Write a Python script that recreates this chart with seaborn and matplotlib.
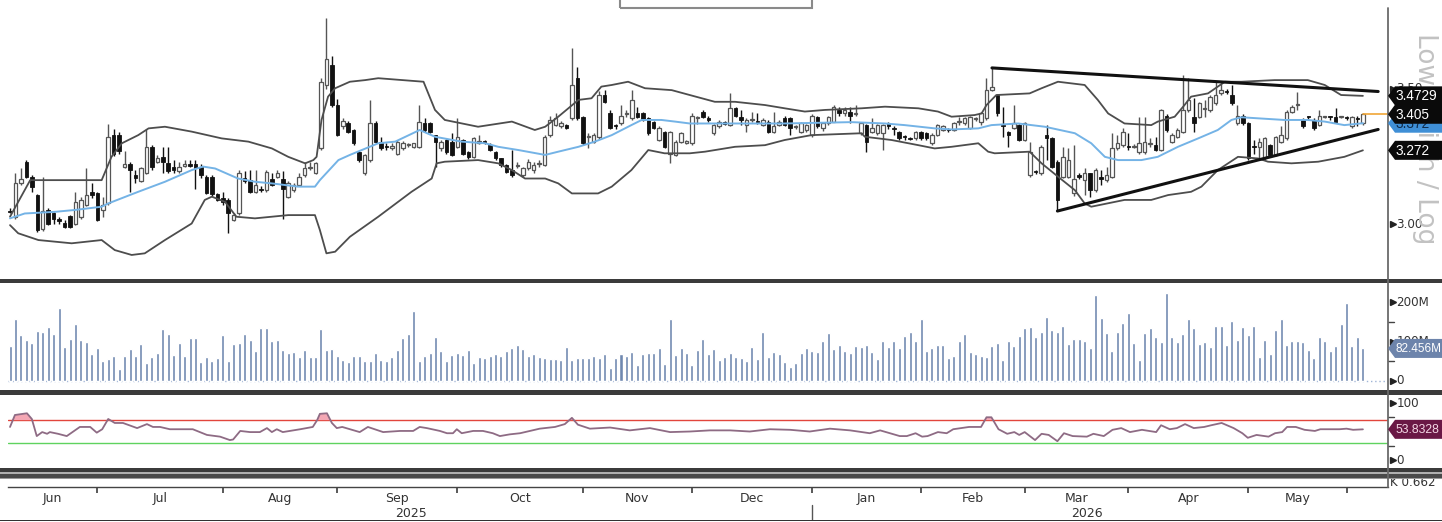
import numpy as np
import pandas as pd
import matplotlib
matplotlib.use("Agg")
import matplotlib.pyplot as plt
import seaborn as sns
from matplotlib.patches import Polygon, Rectangle
from matplotlib.lines import Line2D
from matplotlib.transforms import IdentityTransform, blended_transform_factory

# ---------------- data (daily candles) ----------------
open_ = [3.05, 3.027, 3.15, 3.23, 3.175, 3.107, 2.98, 3.052, 3.04, 3.02,
         3.005, 3.03, 3.0, 3.027, 3.07, 3.12, 3.113, 3.052, 3.076, 3.33,
         3.33, 3.21, 3.22, 3.18, 3.16, 3.19, 3.285, 3.23, 3.248, 3.225,
         3.21, 3.195, 3.215, 3.22, 3.22, 3.21, 3.175, 3.175, 3.11, 3.095,
         3.09, 3.015, 3.04, 3.17, 3.162, 3.12, 3.127, 3.125, 3.168, 3.175,
         3.168, 3.10, 3.125, 3.145, 3.18, 3.205, 3.187, 3.28, 3.513, 3.587,
         3.44, 3.36, 3.371, 3.347, 3.267, 3.187, 3.236, 3.371, 3.304, 3.285,
         3.28, 3.26, 3.28, 3.29, 3.285, 3.285, 3.371, 3.371, 3.328, 3.28,
         3.31, 3.304, 3.285, 3.31, 3.267, 3.248, 3.30, 3.305, 3.29, 3.267,
         3.242, 3.218, 3.20, 3.215, 3.18, 3.205, 3.20, 3.222, 3.218, 3.328,
         3.365, 3.36, 3.365, 3.39, 3.538, 3.396, 3.322, 3.304, 3.322, 3.476,
         3.408, 3.365, 3.371, 3.405, 3.39, 3.408, 3.408, 3.39, 3.378, 3.31,
         3.34, 3.26, 3.255, 3.304, 3.30, 3.298, 3.39, 3.415, 3.39, 3.335,
         3.36, 3.375, 3.365, 3.427, 3.396, 3.365, 3.384, 3.38, 3.365, 3.378,
         3.34, 3.365, 3.39, 3.39, 3.358, 3.34, 3.347, 3.328, 3.396, 3.353,
         3.371, 3.378, 3.42, 3.408, 3.415, 3.407, 3.335, 3.365, 3.34, 3.335,
         3.335, 3.371, 3.355, 3.34, 3.322, 3.317, 3.316, 3.34, 3.335, 3.298,
         3.328, 3.347, 3.348, 3.347, 3.376, 3.371, 3.353, 3.388, 3.378, 3.39,
         3.494, 3.476, 3.365, 3.34, 3.353, 3.365, 3.31, 3.18, 3.195, 3.187,
         3.328, 3.316, 3.23, 3.175, 3.175, 3.113, 3.18, 3.162, 3.187, 3.125,
         3.17, 3.162, 3.175, 3.28, 3.29, 3.287, 3.285, 3.267, 3.267, 3.296,
         3.29, 3.273, 3.40, 3.304, 3.322, 3.34, 3.42, 3.396, 3.396, 3.425,
         3.42, 3.445, 3.482, 3.488, 3.476, 3.371, 3.40, 3.371, 3.287, 3.285,
         3.242, 3.29, 3.255, 3.304, 3.316, 3.415, 3.438, 3.384, 3.397, 3.384,
         3.365, 3.395, 3.397, 3.396, 3.395, 3.396, 3.36, 3.39, 3.371]
high = [3.06, 3.187, 3.205, 3.235, 3.18, 3.11, 3.175, 3.06, 3.045, 3.025,
        3.015, 3.035, 3.12, 3.10, 3.205, 3.15, 3.12, 3.10, 3.37, 3.35,
        3.34, 3.27, 3.23, 3.2, 3.21, 3.35, 3.29, 3.255, 3.285, 3.285,
        3.235, 3.23, 3.235, 3.235, 3.235, 3.22, 3.18, 3.18, 3.115, 3.12,
        3.095, 3.04, 3.2, 3.195, 3.2, 3.2, 3.14, 3.2, 3.19, 3.2,
        3.195, 3.16, 3.15, 3.19, 3.23, 3.23, 3.23, 3.54, 3.76, 3.62,
        3.46, 3.39, 3.38, 3.35, 3.27, 3.26, 3.458, 3.38, 3.32, 3.30,
        3.30, 3.31, 3.305, 3.30, 3.30, 3.44, 3.39, 3.375, 3.33, 3.31,
        3.315, 3.335, 3.39, 3.315, 3.27, 3.32, 3.33, 3.31, 3.30, 3.27,
        3.245, 3.22, 3.273, 3.23, 3.21, 3.24, 3.23, 3.235, 3.33, 3.40,
        3.41, 3.38, 3.37, 3.648, 3.58, 3.40, 3.335, 3.335, 3.49, 3.494,
        3.42, 3.37, 3.44, 3.42, 3.494, 3.433, 3.415, 3.395, 3.38, 3.36,
        3.345, 3.345, 3.31, 3.34, 3.31, 3.41, 3.40, 3.42, 3.40, 3.37,
        3.385, 3.38, 3.482, 3.43, 3.42, 3.39, 3.415, 3.408, 3.39, 3.385,
        3.415, 3.385, 3.40, 3.395, 3.365, 3.375, 3.37, 3.405, 3.40, 3.375,
        3.40, 3.44, 3.43, 3.433, 3.433, 3.44, 3.375, 3.37, 3.39, 3.37,
        3.37, 3.375, 3.36, 3.345, 3.33, 3.32, 3.345, 3.345, 3.34, 3.335,
        3.37, 3.365, 3.355, 3.375, 3.396, 3.395, 3.40, 3.396, 3.415, 3.537,
        3.576, 3.48, 3.433, 3.345, 3.44, 3.37, 3.375, 3.304, 3.20, 3.29,
        3.365, 3.32, 3.235, 3.285, 3.28, 3.29, 3.19, 3.205, 3.19, 3.205,
        3.20, 3.212, 3.335, 3.328, 3.353, 3.335, 3.295, 3.396, 3.396, 3.316,
        3.322, 3.425, 3.405, 3.335, 3.355, 3.55, 3.537, 3.464, 3.45, 3.458,
        3.475, 3.525, 3.52, 3.50, 3.513, 3.44, 3.405, 3.375, 3.31, 3.316,
        3.32, 3.295, 3.325, 3.36, 3.42, 3.44, 3.488, 3.39, 3.40, 3.39,
        3.42, 3.40, 3.40, 3.427, 3.40, 3.40, 3.40, 3.40, 3.41]
low = [3.04, 3.02, 3.145, 3.17, 3.12, 2.97, 2.975, 2.995, 3.0, 3.0,
       2.985, 2.985, 2.995, 3.02, 3.065, 3.095, 3.01, 3.027, 3.07, 3.25,
       3.26, 3.205, 3.12, 3.15, 3.155, 3.185, 3.2, 3.225, 3.19, 3.19,
       3.19, 3.19, 3.21, 3.21, 3.13, 3.17, 3.11, 3.105, 3.085, 3.07,
       2.968, 3.01, 3.035, 3.15, 3.115, 3.115, 3.12, 3.12, 3.14, 3.17,
       3.02, 3.095, 3.12, 3.14, 3.175, 3.20, 3.185, 3.275, 3.50, 3.43,
       3.325, 3.35, 3.335, 3.29, 3.23, 3.18, 3.23, 3.30, 3.275, 3.275,
       3.275, 3.255, 3.275, 3.285, 3.28, 3.28, 3.34, 3.335, 3.212, 3.27,
       3.26, 3.25, 3.28, 3.255, 3.24, 3.245, 3.295, 3.295, 3.27, 3.238,
       3.21, 3.19, 3.175, 3.205, 3.175, 3.20, 3.19, 3.21, 3.215, 3.32,
       3.36, 3.355, 3.35, 3.385, 3.385, 3.29, 3.28, 3.30, 3.315, 3.445,
       3.35, 3.35, 3.365, 3.395, 3.385, 3.39, 3.38, 3.33, 3.35, 3.305,
       3.28, 3.224, 3.25, 3.30, 3.295, 3.29, 3.37, 3.39, 3.375, 3.33,
       3.355, 3.365, 3.36, 3.395, 3.365, 3.34, 3.378, 3.37, 3.36, 3.335,
       3.335, 3.36, 3.36, 3.328, 3.35, 3.335, 3.34, 3.32, 3.355, 3.345,
       3.365, 3.375, 3.40, 3.40, 3.371, 3.40, 3.33, 3.267, 3.335, 3.33,
       3.273, 3.35, 3.328, 3.31, 3.31, 3.31, 3.31, 3.31, 3.31, 3.292,
       3.325, 3.345, 3.34, 3.345, 3.365, 3.365, 3.35, 3.38, 3.365, 3.385,
       3.49, 3.40, 3.322, 3.285, 3.35, 3.305, 3.305, 3.175, 3.185, 3.18,
       3.236, 3.205, 3.048, 3.17, 3.17, 3.105, 3.165, 3.107, 3.10, 3.12,
       3.145, 3.155, 3.17, 3.275, 3.285, 3.275, 3.28, 3.26, 3.26, 3.285,
       3.268, 3.268, 3.34, 3.30, 3.318, 3.335, 3.415, 3.34, 3.39, 3.396,
       3.415, 3.44, 3.475, 3.48, 3.44, 3.365, 3.365, 3.236, 3.26, 3.242,
       3.236, 3.25, 3.25, 3.30, 3.31, 3.41, 3.42, 3.355, 3.388, 3.348,
       3.36, 3.39, 3.385, 3.375, 3.39, 3.385, 3.355, 3.36, 3.365]
close = [3.045, 3.15, 3.168, 3.175, 3.138, 2.978, 3.05, 3.002, 3.02, 3.01,
         2.988, 2.99, 3.08, 3.09, 3.107, 3.107, 3.015, 3.07, 3.32, 3.26,
         3.27, 3.22, 3.20, 3.17, 3.205, 3.285, 3.21, 3.245, 3.23, 3.195,
         3.20, 3.21, 3.22, 3.215, 3.205, 3.18, 3.115, 3.11, 3.09, 3.08,
         3.04, 3.033, 3.187, 3.157, 3.12, 3.145, 3.125, 3.193, 3.145, 3.187,
         3.13, 3.15, 3.145, 3.175, 3.205, 3.21, 3.225, 3.525, 3.61, 3.439,
         3.33, 3.38, 3.34, 3.298, 3.236, 3.255, 3.371, 3.304, 3.28, 3.283,
         3.287, 3.304, 3.298, 3.292, 3.298, 3.378, 3.347, 3.34, 3.304, 3.304,
         3.267, 3.255, 3.322, 3.26, 3.248, 3.316, 3.305, 3.302, 3.273, 3.242,
         3.218, 3.193, 3.18, 3.218, 3.205, 3.23, 3.218, 3.224, 3.322, 3.384,
         3.39, 3.371, 3.353, 3.513, 3.39, 3.298, 3.325, 3.328, 3.476, 3.452,
         3.353, 3.362, 3.40, 3.408, 3.458, 3.396, 3.384, 3.335, 3.353, 3.353,
         3.285, 3.34, 3.304, 3.335, 3.305, 3.40, 3.396, 3.396, 3.385, 3.365,
         3.378, 3.37, 3.427, 3.40, 3.384, 3.384, 3.386, 3.376, 3.384, 3.34,
         3.36, 3.378, 3.365, 3.353, 3.36, 3.371, 3.365, 3.40, 3.36, 3.371,
         3.396, 3.433, 3.408, 3.42, 3.40, 3.409, 3.371, 3.304, 3.353, 3.365,
         3.365, 3.36, 3.352, 3.316, 3.32, 3.315, 3.34, 3.316, 3.316, 3.328,
         3.365, 3.36, 3.346, 3.371, 3.378, 3.39, 3.396, 3.39, 3.408, 3.494,
         3.507, 3.408, 3.36, 3.328, 3.371, 3.31, 3.371, 3.267, 3.193, 3.285,
         3.316, 3.212, 3.089, 3.248, 3.236, 3.168, 3.175, 3.187, 3.125, 3.20,
         3.168, 3.18, 3.28, 3.298, 3.34, 3.283, 3.287, 3.298, 3.304, 3.298,
         3.273, 3.42, 3.347, 3.328, 3.347, 3.42, 3.458, 3.371, 3.445, 3.427,
         3.47, 3.476, 3.494, 3.486, 3.445, 3.40, 3.371, 3.242, 3.285, 3.304,
         3.316, 3.255, 3.322, 3.328, 3.415, 3.433, 3.44, 3.36, 3.394, 3.353,
         3.40, 3.397, 3.395, 3.378, 3.396, 3.39, 3.396, 3.388, 3.405]
volume_m = [88.6, 157.8, 115.6, 103, 95.4, 127.4, 124.9, 137.6, 119.8, 184,
            86.1, 105.5, 145.1, 103, 97.9, 68.4, 83.5, 50.6, 55.7, 64.1,
            31.2, 64.1, 81, 64.1, 92.8, 45.6, 60.8, 70.9, 130.8, 119.8,
            65.8, 95.4, 64.1, 108, 108, 48.9, 61.6, 51.5, 59.1, 115.6,
            51.5, 92.8, 95.4, 119.8, 103, 75.9, 133.3, 135, 100.4, 103,
            77.6, 70.9, 73.4, 60.8, 78.5, 60.8, 60.8, 132.5, 77.6, 81,
            64.1, 53.2, 48.1, 62.4, 64.1, 50.6, 50.6, 70.9, 53.2, 51.5,
            61.6, 78.5, 109.7, 118.1, 177.2, 51.5, 64.1, 70.9, 110.5, 75.9,
            51.5, 65.8, 70.9, 65.8, 77.6, 46.4, 61.6, 57.4, 63.3, 68.4,
            64.1, 75.9, 84.4, 90.3, 81, 64.1, 68.4, 61.6, 57.4, 55.7,
            55.7, 54, 86.1, 53.2, 59.1, 59.1, 59.1, 64.1, 59.1, 68.4,
            33.8, 59.1, 68.4, 64.1, 72.6, 39.7, 68.4, 70.9, 70.9, 84.4,
            43.9, 157.8, 65.8, 84.4, 70.9, 39.7,
            77.6, 105.5, 68.4, 80.2, 53.2, 61.6, 70.9, 61.6, 59.1, 51.5,
            86.1, 56.5, 124.9, 61.6, 73.4, 68.4, 48.9, 35.4, 46.4, 70.9,
            83.5, 75.1, 73.4, 100.4, 122.4, 81, 91.1, 75.9, 70.9, 87.8,
            86.1, 91.1, 73.4, 56.5, 100.4, 86.1, 100.4, 83.5, 114.8, 124.9,
            100.4, 157, 75.9, 83.5, 91.1, 91.1, 59.1, 64.1, 100.4, 119.8,
            73.4, 68.4, 64.1, 61.6, 87.8, 95.4, 53.2, 100.4, 87.8, 114.8,
            135, 136.7, 110.5, 124.9, 162, 130, 124.9, 139.2, 92.8, 105.5,
            105.5, 100.4, 83.5, 218.6, 159.5, 122.4, 75.9, 124.9, 146.8, 172.2,
            95.4, 53.2, 122.4, 135, 110.5, 97.9, 223.6, 110.5, 97.9, 119.8,
            157, 135, 92.8, 97.9, 86.1, 139.2, 139.2, 90.3, 151.9, 103,
            137.6, 117.3, 139.2, 61.6, 103, 68.4, 130, 157, 90.3, 100.4,
            100.4, 97.9, 77.6, 59.1, 112.2, 100.4, 75.1, 87.8, 145.1, 196.6,
            87.8, 112.2, 82.456]

# Bollinger bands (sampled along the session index)
upper_idx = [0, 3.7, 16.8, 18.6, 20.5, 23.5, 25.4, 28.4, 33.3, 38.8,
             43.7, 48, 51, 54.1, 55.6, 56.2, 57.1, 58.3, 59.6, 62.3,
             65.1, 67.5, 75.8, 77.9, 79.7, 85.8, 92, 96.2, 98.1, 100.5,
             104.2, 106.6, 108.4, 110.3, 113.3, 116.4, 121.3, 124.6, 129.2, 132.9,
             138.4, 142, 145.7, 149.4, 156.1, 160.4, 166.5, 170.1, 172.6, 176.8,
             178.1, 179, 180.8, 186.9, 189.1, 192.1, 197, 199.4, 201.3, 204.3,
             209.2, 210.4, 213.5, 215.3, 216.5, 219.6, 222.7, 225.7, 231.8, 237.9,
             241, 244, 248]
upper_val = [3.027, 3.162, 3.162, 3.248, 3.298, 3.328, 3.353, 3.359, 3.341, 3.316,
             3.304, 3.279, 3.248, 3.224, 3.236, 3.248, 3.384, 3.47, 3.501, 3.525,
             3.531, 3.538, 3.525, 3.421, 3.384, 3.359, 3.378, 3.347, 3.359, 3.396,
             3.458, 3.464, 3.507, 3.513, 3.525, 3.501, 3.494, 3.476, 3.451, 3.451,
             3.439, 3.427, 3.415, 3.421, 3.427, 3.433, 3.427, 3.415, 3.396, 3.402,
             3.408, 3.439, 3.476, 3.482, 3.501, 3.525, 3.513, 3.458, 3.408, 3.371,
             3.365, 3.378, 3.396, 3.439, 3.47, 3.482, 3.525, 3.525, 3.531, 3.531,
             3.513, 3.476, 3.4729]
mid_idx = [0, 2.7, 8.2, 11.9, 16.8, 18, 23.5, 28.4, 33.3, 35.4,
           37.6, 41.8, 44.9, 48, 52.8, 55.9, 56.8, 60.2, 62.3, 67.5,
           70.6, 75.1, 77.9, 82.8, 87.1, 89.5, 93.2, 98.1, 100.5, 104.2,
           107.2, 110.3, 113.9, 115.8, 119.4, 121.9, 124.6, 129.8, 142, 154.2,
           160.4, 164, 169.5, 172.6, 177.5, 179.9, 184.8, 189.7, 195.2, 198.2,
           200.7, 203.1, 207.4, 210.4, 214.1, 217.8, 221.4, 223.9, 225.7, 228.8,
           233.6, 237.9, 241, 244.6, 248]
mid_val = [3.021, 3.039, 3.045, 3.052, 3.064, 3.076, 3.119, 3.156, 3.199, 3.212,
           3.205, 3.168, 3.156, 3.150, 3.138, 3.138, 3.162, 3.236, 3.255, 3.298,
           3.304, 3.347, 3.322, 3.304, 3.298, 3.285, 3.273, 3.255, 3.267, 3.285,
           3.304, 3.328, 3.365, 3.384, 3.384, 3.378, 3.371, 3.371, 3.371, 3.376,
           3.371, 3.365, 3.353, 3.349, 3.353, 3.365, 3.371, 3.359, 3.335, 3.298,
           3.248, 3.236, 3.236, 3.248, 3.285, 3.316, 3.347, 3.384, 3.394, 3.390,
           3.384, 3.384, 3.378, 3.365, 3.372]
lower_idx = [0, 1.5, 5.2, 11.3, 16.8, 19.2, 22.3, 24.7, 28.4, 33.3,
             35.7, 37, 39.4, 41.5, 44.9, 51, 55.9, 56.8, 58, 59.6,
             62.3, 67.5, 73.6, 77.3, 78.2, 79.7, 85.8, 89.5, 92, 94.4,
             98.1, 100.5, 103, 107.8, 110.3, 113.9, 117, 120, 124.6, 127.4,
             132.9, 138.4, 142, 146.9, 156.1, 156.7, 161.6, 166.5, 169.5, 172.6,
             177.5, 179.3, 180.5, 186.9, 189.1, 192.1, 195.2, 197, 198.2, 204.3,
             209.2, 212.3, 216.5, 218.4, 221.4, 225.1, 228.8, 230.6, 234.9, 239.8,
             244.6, 248]
lower_val = [2.996, 2.966, 2.941, 2.929, 2.941, 2.904, 2.886, 2.892, 2.941, 3.002,
             3.089, 3.101, 3.082, 3.027, 3.021, 3.033, 3.033, 2.978, 2.892, 2.898,
             2.953, 3.027, 3.119, 3.168, 3.224, 3.230, 3.236, 3.224, 3.199, 3.168,
             3.168, 3.150, 3.113, 3.113, 3.138, 3.199, 3.273, 3.261, 3.261, 3.267,
             3.285, 3.291, 3.310, 3.328, 3.335, 3.322, 3.310, 3.291, 3.279, 3.285,
             3.298, 3.267, 3.261, 3.267, 3.224, 3.175, 3.125, 3.076, 3.064, 3.089,
             3.089, 3.107, 3.119, 3.138, 3.199, 3.248, 3.242, 3.230, 3.224, 3.230,
             3.248, 3.272]

# trend lines (triangle)
trend_up_idx = [180, 250.8]
trend_up_val = [3.576, 3.489]
trend_lo_idx = [192, 250.8]
trend_lo_val = [3.048, 3.349]

# RSI (sampled)
rsi_idx = [0, 0.9, 3.1, 4.0, 4.9, 5.9, 6.8, 7.3, 8.8, 10.4,
           12.8, 14.7, 15.9, 16.9, 18.0, 19.2, 20.7, 23.3, 25.1, 26.2,
           27.5, 29.3, 33.5, 36.1, 38.5, 40.3, 40.9, 42.2, 44.0, 45.8,
           47.1, 48.0, 48.9, 50.0, 53.2, 55.5, 56.3, 56.8, 58.1, 59.0,
           59.9, 60.9, 64.1, 65.6, 68.4, 71.5, 73.9, 75.1, 76.4, 78.8,
           80.1, 81.2, 81.9, 82.8, 84.9, 86.7, 88.5, 89.8, 91.6, 93.5,
           97.1, 99.9, 101.7, 103.0, 104.1, 106.3, 110.0, 113.6, 117.3, 121.0,
           124.6, 128.3, 132.0, 135.6, 139.3, 143.0, 146.6, 150.3, 154.0, 157.6,
           159.5, 163.1, 164.4, 166.0, 167.2, 168.2, 170.1, 171.7, 172.9, 175.8,
           178.0, 179.0, 179.9, 181.2, 182.8, 184.1, 185.0, 186.0, 187.9, 189.1,
           190.4, 192.0, 193.2, 194.8, 197.4, 198.6, 200.5, 202.1, 203.7, 205.3,
           207.5, 210.1, 211.0, 212.6, 213.9, 215.4, 217.0, 218.9, 220.2, 222.1,
           224.3, 225.9, 226.9, 228.5, 230.7, 231.9, 233.2, 234.1, 235.7, 237.3,
           239.2, 240.2, 243.7, 245.0, 246.2, 248.0]
rsi_val = [58, 79, 82, 72, 42, 49, 46, 49, 46, 42,
           58, 58, 48, 54, 72, 65, 65, 56, 63, 58,
           58, 54, 54, 44, 41, 35, 36, 51, 49, 49,
           56, 49, 54, 49, 54, 58, 70, 81, 82, 65,
           56, 58, 49, 58, 49, 51, 51, 58, 56, 51,
           47, 47, 54, 47, 51, 51, 47, 42, 45, 47,
           55, 58, 63, 74, 62, 55, 57, 52, 56, 49,
           50, 52, 52, 50, 54, 53, 50, 55, 52, 47,
           52, 42, 42, 47, 41, 42, 49, 47, 54, 58,
           58, 75, 75, 54, 46, 49, 44, 49, 35, 46,
           44, 33, 47, 42, 41, 46, 42, 53, 56, 49,
           53, 49, 61, 54, 56, 63, 56, 58, 61, 65,
           56, 47, 39, 44, 41, 47, 49, 58, 58, 53,
           51, 54, 54, 55, 53, 53.8328]

# last values shown in the right-hand tags
upper_last, mid_last, lower_last = 3.4729, 3.372, 3.272
vol_last = 82.456
rsi_last = 53.8328

# calendar: index of first session in each month, and labels
month_start_idx = [16, 39, 60, 82, 105, 125, 147, 167, 186, 205, 227, 245]
month_names = ["Jun", "Jul", "Aug", "Sep", "Oct", "Nov", "Dec",
               "Jan", "Feb", "Mar", "Apr", "May", "Jun"]
year_break_idx = 147
year_names = ["2025", "2026"]

# ---------------- figure ----------------
W, H = 1442, 522
sns.set_theme(style="white")
plt.rcParams["font.family"] = ["DejaVu Sans"]

fig = plt.figure(figsize=(W / 100, H / 100), dpi=100)
fig.patch.set_facecolor("white")


def rect(x0, y0, x1, y1):
    return [x0 / W, 1 - y1 / H, (x1 - x0) / W, (y1 - y0) / H]


ax_p = fig.add_axes(rect(8, 8, 1388, 278))
ax_v = fig.add_axes(rect(8, 284, 1388, 390))
ax_r = fig.add_axes(rect(8, 396, 1388, 468))
ax_d = fig.add_axes(rect(8, 487, 1388, 520))

n = len(close)
idx = np.arange(n)
XL = (-0.37, 252.6)
for ax in (ax_p, ax_v, ax_r, ax_d):
    ax.set_xlim(XL)
    ax.set_facecolor("none")
    for s in ax.spines.values():
        s.set_visible(False)
    ax.set_xticks([])
    ax.grid(False)

# ---- price panel ----
ax_p.set_ylim(2.801, 3.797)
o = np.array(open_); c = np.array(close); hi = np.array(high); lo = np.array(low)
up = c >= o
ax_p.vlines(idx[up], lo[up], hi[up], color="#555555", lw=1.0, zorder=2)
ax_p.vlines(idx[~up], lo[~up], hi[~up], color="#111111", lw=1.0, zorder=2)
blo = np.minimum(o, c)
bh = np.maximum(np.abs(c - o), 0.004)
ax_p.bar(idx[up], bh[up], bottom=blo[up], width=0.64, facecolor="white",
         edgecolor="#555555", linewidth=0.9, zorder=3)
ax_p.bar(idx[~up], bh[~up], bottom=blo[~up], width=0.64, facecolor="#111111",
         edgecolor="#111111", linewidth=0.6, zorder=3)

sns.lineplot(x=upper_idx, y=upper_val, ax=ax_p, color="#4d4d4d", lw=1.3, zorder=4)
sns.lineplot(x=lower_idx, y=lower_val, ax=ax_p, color="#4d4d4d", lw=1.3, zorder=4)
sns.lineplot(x=mid_idx, y=mid_val, ax=ax_p, color="#74b3e6", lw=1.4, zorder=4)
ax_p.plot(trend_up_idx, trend_up_val, color="#111111", lw=2.2, zorder=5)
ax_p.plot(trend_lo_idx, trend_lo_val, color="#111111", lw=2.2, zorder=5)
ax_p.plot([n - 1, XL[1]], [close[-1], close[-1]], color="#f0a636", lw=1.2, zorder=5)
ax_p.set_xlim(XL)

# ---- volume panel ----
ax_v.set_ylim(-22.8, 245.6)
ax_v.bar(idx, volume_m, width=0.55, color="#6f88b0", zorder=2)
ax_v.axhline(0, color="#9fb4d6", lw=1.0, ls=(0, (1, 2)), zorder=1)

# ---- RSI panel ----
ax_r.set_ylim(-14, 112.3)
ax_r.axhline(70, color="#e2453c", lw=1.0, zorder=1)
ax_r.axhline(30, color="#5fd35f", lw=1.0, zorder=1)
ri = np.array(rsi_idx); rv = np.array(rsi_val)
ax_r.fill_between(ri, 70, rv, where=rv > 70, interpolate=True, color="#f4a7b4", lw=0, zorder=2)
sns.lineplot(x=rsi_idx, y=rsi_val, ax=ax_r, color="#8e6b84", lw=1.3, zorder=3)

# ---- right axis ticks / labels ----
def right_ticks(ax, major, labels, minor=()):
    tr = blended_transform_factory(ax.transAxes, ax.transData)
    for v, lab in zip(major, labels):
        ax.plot([1.0035], [v], marker=">", ms=4.5, color="#222222", transform=tr, clip_on=False)
        ax.text(1.006, v, lab, transform=tr, fontsize=8.6, color="#333333", va="center", ha="left")
    for v in minor:
        ax.plot([1.0, 1.004], [v, v], color="#444444", lw=1, transform=tr, clip_on=False)


right_ticks(ax_p, [3.0, 3.5], ["3.00", "3.50"])
right_ticks(ax_v, [0, 100, 200], ["0", "100M", "200M"], minor=[50, 150])
right_ticks(ax_r, [0, 100], ["0", "100"], minor=[25, 75])
ax_p.set_yticks([]); ax_v.set_yticks([]); ax_r.set_yticks([])
ax_p.set_ylabel(""); ax_v.set_ylabel(""); ax_r.set_ylabel("")

# ---- decorative frame pieces (pixel space) ----
ID = IdentityTransform()


def hband(y0, y1, color, x0=0, x1=W, z=4):
    fig.add_artist(Rectangle((x0, H - y1), x1 - x0, y1 - y0, transform=ID,
                             facecolor=color, edgecolor="none", zorder=z))


xr = ax_p.transAxes.transform((1, 0))[0]

fig.text((xr + 2) / W, 1 - 482.5 / H, "K 0.662", fontsize=8.6, color="#333333",
         ha="left", va="center", zorder=3)

hband(278.5, 283, "#3b3b3b")
hband(390, 394.5, "#3b3b3b")
hband(467.5, 471.5, "#3b3b3b")
hband(471.5, 473.5, "#b0b0b0")
hband(473.5, 477.5, "#4a4a4a")
hband(477.5, 479, "#9a9a9a")
hband(519.5, 521, "#333333")

fig.add_artist(Line2D([xr, xr], [H - 8, H - 487], transform=ID, color="#6a6a6a", lw=1.3, zorder=4))
# clipped legend box at the top
fig.add_artist(Rectangle((620, H - 8), 192, 12, transform=ID, facecolor="none",
                         edgecolor="#8a8a8a", lw=1.5, zorder=4))

# rotated scale caption
fig.text((xr + 37) / W, 1 - 139 / H, "Low / High / Log", rotation=270, fontsize=19,
         color="#c2c2c2", ha="center", va="center", zorder=3)

# ---- tags ----
def tag(ax, val, text, fc, tc, z, fs=9.8, w=56, h=19):
    y = ax.transData.transform((0, val))[1]
    x = ax.transAxes.transform((1, 0))[0]
    pts = [(x, y), (x + 7, y + h / 2), (x + w, y + h / 2), (x + w, y - h / 2), (x + 7, y - h / 2)]
    fig.add_artist(Polygon(pts, closed=True, transform=ID, facecolor=fc, edgecolor="none", zorder=z))
    fig.text(x + 8, y - 0.5, text, transform=ID, color=tc, fontsize=fs, va="center", ha="left",
             family=["Liberation Sans", "DejaVu Sans"], zorder=z + 0.5)


tag(ax_p, mid_last, f"{mid_last:.3f}", "#3f8fd6", "#0d2a4a", 6)
tag(ax_p, close[-1], f"{close[-1]:.3f}", "#0a0a0a", "white", 7)
tag(ax_p, upper_last, f"{upper_last:.4f}", "#0a0a0a", "white", 8)
tag(ax_p, lower_last, f"{lower_last:.3f}", "#0a0a0a", "white", 8)
tag(ax_v, vol_last, f"{vol_last:.3f}M", "#6d84ab", "white", 8, fs=8.5)
tag(ax_r, rsi_last, f"{rsi_last:.4f}", "#6a1845", "#f3d6e4", 8, fs=8.8)

# ---- date axis ----
ax_d.set_ylim(0, 1)
ax_d.spines["top"].set_visible(True)
ax_d.spines["top"].set_color("#444444")
ax_d.spines["top"].set_linewidth(1.0)
ax_d.set_xticks(month_start_idx)
ax_d.tick_params(axis="x", top=True, bottom=False, direction="in", length=4,
                 color="#444444", labeltop=False, labelbottom=False)
edges = [XL[0]] + month_start_idx + [XL[1]]
for name, a, b in zip(month_names, edges[:-1], edges[1:]):
    if b - a > 10:
        ax_d.text((a + b) / 2, 0.66, name, ha="center", va="center", fontsize=9, color="#333333")
ax_d.text((0 + year_break_idx) / 2, 0.2, year_names[0], ha="center", va="center", fontsize=9, color="#333333")
ax_d.text((year_break_idx + n - 1) / 2, 0.2, year_names[1], ha="center", va="center", fontsize=9, color="#333333")
ax_d.plot([year_break_idx, year_break_idx], [0, 0.45], color="#555555", lw=1)
ax_d.set_yticks([])

fig.savefig("out.png", dpi=100)
